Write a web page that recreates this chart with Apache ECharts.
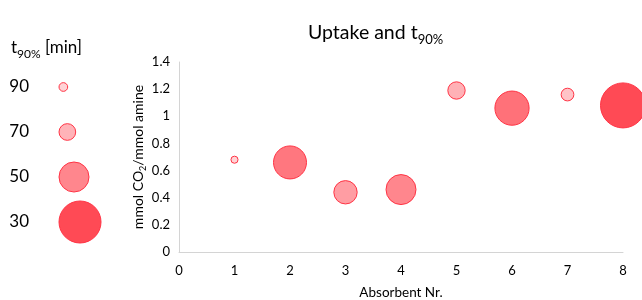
<!DOCTYPE html>
<html>
<head>
<meta charset="utf-8">
<script src="https://cdn.jsdelivr.net/npm/echarts@6/dist/echarts.min.js"></script>
<style>
  html, body { margin: 0; padding: 0; background: #fff; }
  #main { width: 642px; height: 300px; }
</style>
</head>
<body>
<div id="main"></div>
<script>
  // absorbent number, CO2 uptake and t90% per absorbent
  const absorbent = [1, 2, 3, 4, 5, 6, 7, 8];
  const uptake = [0.68, 0.66, 0.44, 0.46, 1.19, 1.06, 1.16, 1.08];
  const t90 = [94, 45, 60, 50, 69, 43, 80, 25];
  // bubble key on the left
  const legendT = [90, 70, 50, 30];

  // t90 -> bubble diameter / fill (shorter time = bigger, darker bubble)
  const stopT = [30, 50, 70, 90];
  const stopSize = [42, 30, 16.7, 8.7];
  const stopFill = ['#ff4a55', '#ff868d', '#ffb3b8', '#ffd3d6'];

  function sizeOf(t) {
    let i = 0;
    if (t > stopT[1]) i = t > stopT[2] ? 2 : 1;
    let a = stopT[i], b = stopT[i + 1];
    return stopSize[i] + (t - a) / (b - a) * (stopSize[i + 1] - stopSize[i]);
  }
  function fillOf(t) {
    let f = (t - stopT[0]) / (stopT[3] - stopT[0]);
    return echarts.color.lerp(Math.max(0, Math.min(1, f)), stopFill);
  }

  const font = 'Lato, "Open Sans", sans-serif';
  const bubbleStyle = {
    color: (p) => fillOf(p.value[2]),
    borderColor: '#ff3344',
    borderWidth: 1,
    opacity: 1,
  };
  const txt = (size, extra) => Object.assign({ fontFamily: font, fontSize: size, fontWeight: 'normal', color: '#000' }, extra);

  let chart = echarts.init(document.getElementById('main'));
  chart.setOption({
    animation: false,
    textStyle: { fontFamily: font },
    title: [
      {
        text: '{m|Uptake and t}{s|90%}',
        left: 303,
        top: 16,
        textStyle: {
          fontWeight: 'normal',
          rich: {
            m: txt(19.5, { lineHeight: 23 }),
            s: txt(13, { lineHeight: 13, verticalAlign: 'bottom', padding: [0, 0, -2, 0] }),
          },
        },
      },
      {
        text: '{m|t}{s|90%}{m| [min]}',
        left: 6,
        top: 33,
        textStyle: {
          fontWeight: 'normal',
          rich: {
            m: txt(17, { lineHeight: 20 }),
            s: txt(12, { lineHeight: 12, verticalAlign: 'bottom', padding: [0, 0, -2, 0] }),
          },
        },
      },
    ],
    grid: [
      { left: 179, right: 19, top: 62, bottom: 48, outerBoundsMode: 'none', containLabel: false },
      { left: 59, width: 70, top: 64.5, height: 180, outerBoundsMode: 'none', containLabel: false },
    ],
    xAxis: [
      {
        gridIndex: 0,
        type: 'value',
        min: 0,
        max: 8,
        interval: 1,
        name: 'Absorbent Nr.',
        nameLocation: 'middle',
        nameGap: 34,
        nameMoveOverlap: false,
        nameTextStyle: txt(13.5),
        axisLine: { lineStyle: { color: '#d4d4d4' } },
        axisTick: { show: false },
        splitLine: { show: false },
        axisLabel: txt(13, { margin: 12 }),
      },
      { gridIndex: 1, type: 'value', min: 0, max: 1, show: false },
    ],
    yAxis: [
      {
        gridIndex: 0,
        type: 'value',
        min: 0,
        max: 1.4,
        interval: 0.2,
        name: 'mmol CO{s|2}/mmol amine',
        nameLocation: 'middle',
        nameRotate: 90,
        nameGap: 34,
        nameMoveOverlap: false,
        nameTextStyle: txt(14, {
          rich: {
            s: txt(9, { verticalAlign: 'bottom', padding: [0, 0, -3, 0] }),
          },
        }),
        axisLine: { show: true, lineStyle: { color: '#d4d4d4' } },
        axisTick: { show: false },
        splitLine: { show: false },
        axisLabel: txt(13, { margin: 9 }),
      },
      {
        gridIndex: 1,
        type: 'category',
        inverse: true,
        data: legendT.map(String),
        axisLine: { show: false },
        axisTick: { show: false },
        axisLabel: txt(17, { margin: 30 }),
      },
    ],
    series: [
      {
        type: 'scatter',
        xAxisIndex: 0,
        yAxisIndex: 0,
        data: absorbent.map((a, i) => [a, uptake[i], t90[i]]),
        symbolSize: (v) => sizeOf(v[2]),
        itemStyle: bubbleStyle,
      },
      {
        type: 'scatter',
        xAxisIndex: 1,
        yAxisIndex: 1,
        data: legendT.map((t) => ({
          value: [0, String(t), t],
          symbolOffset: [sizeOf(t) / 2, 0],
        })),
        symbolSize: (v) => sizeOf(v[2]),
        itemStyle: bubbleStyle,
      },
    ],
  });
</script>
</body>
</html>
